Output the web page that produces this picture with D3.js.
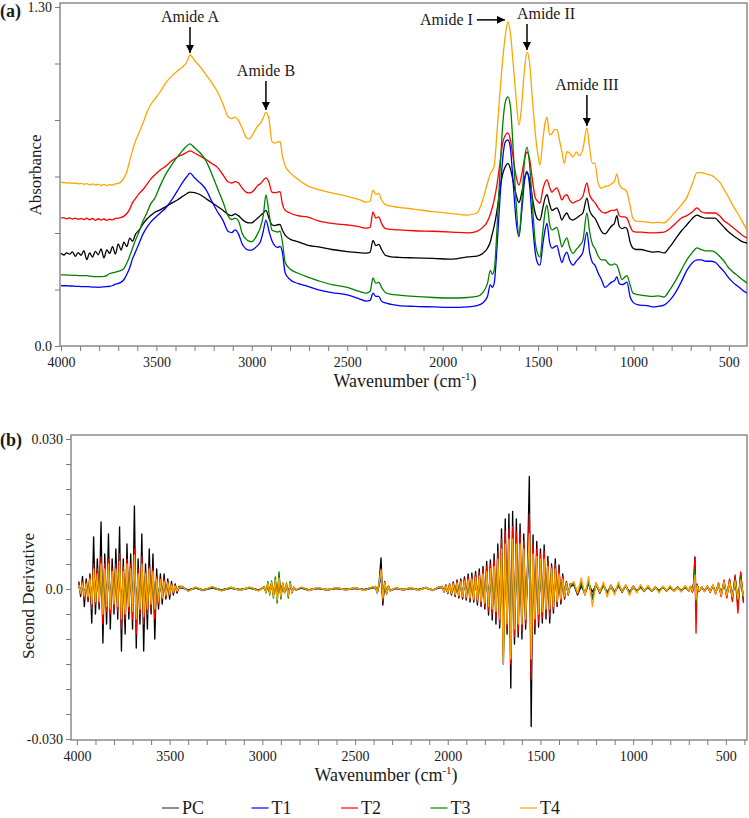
<!DOCTYPE html>
<html>
<head>
<meta charset="utf-8">
<script src="https://cdn.jsdelivr.net/npm/d3@7"></script>
<style>
  body { margin: 0; background: #fff; }
  svg { display: block; font-family: "Liberation Serif", "Times New Roman", serif; }
</style>
</head>
<body>
<svg id="chart" width="749" height="818"></svg>
<script>
// series names + colours (legend order)
var seriesNames = ["PC", "T1", "T2", "T3", "T4"];
var seriesColors = ["#000000", "#0000ff", "#ff0000", "#008000", "#ffa500"];

// ---- panel (a): absorbance spectra ----
var wavenumbersA = [
  4000,3985,3970,3955,3940,3925,3910,3895,3880,3865,
  3850,3835,3820,3805,3790,3775,3760,3745,3730,3715,
  3700,3685,3670,3655,3640,3625,3610,3590,3570,3550,
  3530,3510,3480,3450,3420,3390,3360,3340,3324,3300,
  3270,3240,3210,3180,3150,3125,3105,3088,3070,3050,
  3030,3015,3000,2985,2970,2955,2940,2926,2910,2895,
  2880,2865,2852,2840,2825,2800,2760,2710,2650,2580,
  2500,2440,2400,2380,2365,2350,2335,2320,2300,2270,
  2230,2150,2050,1950,1870,1820,1790,1765,1750,1740,
  1730,1715,1700,1685,1670,1658,1645,1630,1615,1600,
  1585,1570,1558,1545,1530,1515,1500,1490,1475,1462,
  1453,1440,1427,1414,1401,1388,1375,1362,1349,1335,
  1317,1300,1282,1265,1244,1230,1215,1202,1185,1168,
  1149,1130,1115,1100,1087,1075,1060,1045,1034,1018,
  1003,985,960,930,900,870,840,810,780,750,
  720,690,667,645,620,595,573,550,525,505,
  480,455,430,405
];

var absPC = [
  0.356,0.349,0.357,0.352,0.361,0.344,0.358,0.348,0.366,0.331,
  0.357,0.341,0.363,0.350,0.372,0.338,0.369,0.355,0.381,0.352,
  0.392,0.368,0.398,0.381,0.414,0.402,0.428,0.445,0.468,0.487,
  0.500,0.512,0.522,0.535,0.548,0.560,0.575,0.585,0.590,0.588,
  0.580,0.565,0.550,0.535,0.520,0.505,0.500,0.507,0.500,0.485,
  0.475,0.472,0.472,0.480,0.490,0.500,0.510,0.520,0.490,0.465,
  0.462,0.465,0.466,0.445,0.425,0.410,0.400,0.387,0.380,0.370,
  0.362,0.358,0.356,0.360,0.405,0.385,0.390,0.370,0.348,0.342,
  0.340,0.338,0.336,0.333,0.342,0.345,0.355,0.375,0.400,0.430,
  0.460,0.520,0.600,0.660,0.690,0.700,0.680,0.630,0.580,0.550,
  0.590,0.645,0.665,0.640,0.570,0.510,0.485,0.483,0.530,0.570,
  0.580,0.545,0.520,0.525,0.530,0.510,0.483,0.500,0.510,0.490,
  0.483,0.490,0.500,0.510,0.567,0.520,0.500,0.490,0.465,0.440,
  0.430,0.445,0.460,0.470,0.500,0.460,0.450,0.455,0.450,0.400,
  0.376,0.370,0.370,0.365,0.360,0.362,0.357,0.380,0.410,0.440,
  0.465,0.490,0.502,0.495,0.490,0.490,0.490,0.475,0.455,0.440,
  0.425,0.412,0.400,0.395
];

var absT1 = [
  0.232,0.231,0.231,0.230,0.230,0.229,0.229,0.228,0.228,0.228,
  0.227,0.226,0.226,0.225,0.226,0.227,0.228,0.229,0.232,0.237,
  0.240,0.245,0.255,0.275,0.300,0.335,0.360,0.395,0.430,0.455,
  0.475,0.490,0.510,0.530,0.560,0.595,0.630,0.650,0.663,0.645,
  0.625,0.600,0.555,0.515,0.480,0.440,0.435,0.445,0.430,0.390,
  0.372,0.368,0.368,0.375,0.385,0.400,0.440,0.483,0.440,0.405,
  0.385,0.378,0.382,0.360,0.280,0.255,0.240,0.230,0.215,0.205,
  0.196,0.182,0.172,0.175,0.203,0.190,0.190,0.172,0.165,0.160,
  0.155,0.152,0.150,0.148,0.150,0.155,0.165,0.190,0.235,0.225,
  0.240,0.380,0.560,0.720,0.785,0.790,0.760,0.620,0.480,0.420,
  0.520,0.640,0.670,0.620,0.480,0.360,0.315,0.310,0.390,0.450,
  0.470,0.400,0.375,0.380,0.385,0.350,0.320,0.345,0.360,0.330,
  0.310,0.325,0.340,0.360,0.437,0.360,0.320,0.310,0.280,0.255,
  0.225,0.235,0.245,0.250,0.265,0.240,0.235,0.240,0.245,0.190,
  0.168,0.160,0.156,0.155,0.150,0.152,0.157,0.175,0.205,0.245,
  0.290,0.320,0.330,0.330,0.325,0.325,0.322,0.305,0.285,0.265,
  0.245,0.230,0.215,0.203
];

var absT2 = [
  0.490,0.492,0.488,0.491,0.487,0.490,0.486,0.489,0.485,0.490,
  0.484,0.489,0.482,0.488,0.483,0.487,0.482,0.486,0.484,0.489,
  0.490,0.493,0.498,0.508,0.525,0.550,0.565,0.585,0.600,0.620,
  0.640,0.655,0.675,0.690,0.710,0.725,0.735,0.743,0.748,0.740,
  0.728,0.715,0.700,0.685,0.655,0.630,0.625,0.630,0.625,0.605,
  0.590,0.587,0.590,0.600,0.615,0.622,0.635,0.645,0.628,0.590,
  0.588,0.590,0.592,0.545,0.520,0.510,0.500,0.495,0.480,0.470,
  0.464,0.458,0.452,0.455,0.514,0.490,0.495,0.470,0.450,0.447,
  0.445,0.442,0.440,0.437,0.434,0.440,0.455,0.478,0.505,0.530,
  0.560,0.620,0.700,0.780,0.810,0.817,0.790,0.720,0.650,0.617,
  0.660,0.720,0.744,0.720,0.640,0.570,0.553,0.548,0.600,0.630,
  0.637,0.610,0.590,0.600,0.606,0.585,0.560,0.575,0.580,0.560,
  0.548,0.555,0.560,0.575,0.625,0.580,0.560,0.550,0.530,0.515,
  0.510,0.515,0.520,0.520,0.525,0.500,0.495,0.495,0.490,0.460,
  0.440,0.437,0.437,0.435,0.434,0.435,0.437,0.450,0.470,0.490,
  0.500,0.515,0.530,0.515,0.510,0.510,0.510,0.500,0.480,0.470,
  0.455,0.440,0.425,0.414
];

var absT3 = [
  0.273,0.273,0.272,0.272,0.271,0.271,0.270,0.270,0.270,0.270,
  0.268,0.267,0.266,0.266,0.266,0.267,0.270,0.278,0.280,0.283,
  0.286,0.290,0.298,0.318,0.345,0.375,0.405,0.440,0.480,0.510,
  0.545,0.565,0.615,0.660,0.695,0.725,0.752,0.768,0.775,0.760,
  0.740,0.710,0.660,0.605,0.550,0.500,0.485,0.490,0.480,0.430,
  0.410,0.402,0.400,0.410,0.430,0.455,0.500,0.579,0.510,0.445,
  0.440,0.437,0.440,0.400,0.320,0.295,0.280,0.265,0.250,0.235,
  0.225,0.210,0.203,0.210,0.261,0.240,0.245,0.225,0.205,0.198,
  0.195,0.190,0.186,0.184,0.186,0.190,0.205,0.240,0.290,0.275,
  0.290,0.450,0.660,0.850,0.940,0.955,0.920,0.750,0.550,0.426,
  0.550,0.720,0.763,0.700,0.550,0.400,0.350,0.341,0.440,0.520,
  0.540,0.470,0.445,0.450,0.455,0.420,0.380,0.400,0.415,0.380,
  0.355,0.370,0.385,0.405,0.510,0.440,0.390,0.375,0.345,0.330,
  0.330,0.315,0.310,0.315,0.310,0.285,0.255,0.265,0.270,0.235,
  0.203,0.198,0.195,0.192,0.190,0.192,0.188,0.215,0.250,0.290,
  0.330,0.360,0.376,0.370,0.365,0.365,0.360,0.345,0.325,0.303,
  0.285,0.270,0.255,0.242
];

var absT4 = [
  0.628,0.627,0.625,0.626,0.624,0.625,0.622,0.624,0.620,0.623,
  0.618,0.622,0.617,0.621,0.616,0.620,0.615,0.619,0.617,0.622,
  0.624,0.630,0.645,0.668,0.710,0.750,0.785,0.820,0.855,0.895,
  0.925,0.945,0.975,1.010,1.035,1.055,1.072,1.090,1.116,1.095,
  1.070,1.040,1.010,0.975,0.925,0.880,0.872,0.878,0.865,0.835,
  0.800,0.794,0.805,0.825,0.843,0.855,0.875,0.897,0.870,0.785,
  0.778,0.782,0.785,0.730,0.690,0.665,0.640,0.615,0.600,0.587,
  0.574,0.562,0.552,0.556,0.598,0.582,0.585,0.560,0.542,0.536,
  0.532,0.525,0.515,0.508,0.502,0.510,0.560,0.625,0.660,0.672,
  0.690,0.820,0.970,1.100,1.200,1.243,1.200,1.080,0.950,0.847,
  0.930,1.070,1.127,1.090,0.950,0.820,0.730,0.694,0.790,0.860,
  0.878,0.810,0.815,0.830,0.830,0.790,0.745,0.700,0.745,0.740,
  0.725,0.744,0.730,0.755,0.836,0.760,0.700,0.700,0.625,0.605,
  0.612,0.615,0.622,0.630,0.660,0.620,0.605,0.600,0.590,0.540,
  0.490,0.478,0.478,0.475,0.472,0.474,0.472,0.490,0.515,0.540,
  0.570,0.625,0.665,0.665,0.660,0.655,0.645,0.630,0.600,0.575,
  0.540,0.510,0.478,0.445
];

// peak labels in panel (a), pointing at the T4 curve
var amideLabels = ["Amide A", "Amide B", "Amide I", "Amide II", "Amide III"];
var amideWn = [3324, 2926, 1658, 1558, 1244];

// ---- panel (b): second derivative (values in units of 1e-3) ----
// sampling positions: dense where the spectra ripple, coarse elsewhere
var wavenumbersB = [].concat(
  d3.range(3990, 3449, -10),
  [3430, 3400, 3360, 3320, 3270, 3220, 3170, 3120, 3070, 3020],
  d3.range(2990, 2819, -10),
  [2790, 2750, 2700, 2650, 2600, 2550, 2500, 2450, 2410],
  d3.range(2390, 2309, -10),
  [2280, 2240, 2200, 2160, 2120, 2080, 2050],
  d3.range(2030, 1339, -10),
  d3.range(1320, 699, -20),
  [690, 680, 673, 667, 661, 655, 645],
  d3.range(630, 404, -15)
);

var d2PC = [
  1.5,-1.5,2.5,-3.5,2,-2.5,3,-6.8,10.4,-5, 6,-4,13.4,-10.8,7,-7,11,-8,6,-5,
  8,-6,12.4,-12.4,6,-9,9,-6,7,-8, 16.6,-11.8,6,-7,11,-12.4,5,-8,8,-5,
  7,-10,4,-4,3,-3,3,-2,2,-2, 1.5,-1.2,1,-0.8,0.5,
  0.5,-0.4,0.3,-0.3,0.4,-0.3,0.3,-0.2,0.3,-0.3,
  0.3,-0.5,0.8,-0.6,0.7,-0.9,1,-1.2,1.4,-0.8,0.9,-0.5,0.6,-0.8,0.7,-0.4,0.3,-0.2,
  0.3,-0.2,0.2,-0.2,0.2,-0.1,0.2,-0.2,0.3,
  0.5,-0.8,1.2,6.2,-3.2,1.5,-1,0.6,-0.4,
  0.2,-0.2,0.2,-0.2,0.3,-0.3,0.4,
  0.5,-0.6,0.8,-0.9,1,-1.2,1.4,-1.5,1.8,-1.8, 2,-2,2.4,-2.2,3,-2.6,3.2,-2.6,3.5,-3.2,
  4,-3.5,4.5,-4,5.5,-5.2,5.8,-6.2,7,-7, 9,-7.8,12,-15,14,-9,15,-19.8,15.5,-11,
  14,-9.6,13,-10,11,-8,4,22.5,-27.5,10.8, -9,9.5,-7.6,8,-6.8,8.8,-6,6.5,-6.8,5,
  -4.8,6,-3.5,4.8,-3,3,-2,1.5,-1.2,1,
  1,-1.2,0.6,-0.9,1.1,-0.6,0.8,-0.4,0.7,-0.6, 0.3,-0.7,0.6,-0.3,0.5,-0.6,0.2,-0.4,0.4,-0.2,
  0.3,-0.4,0.2,-0.3,0.4,-0.2,0.3,-0.3,0.2,-0.4, 0.3,-0.2,
  0.5,-0.6,1.5,6.4,-2.2,0.8,-0.5,
  0.4,-0.5,0.5,-0.6,0.7,-0.8,1,-1.2,1.5,-1.5,1.8,-2,2.5,-3,3,-2.5
];

var d2T1 = [
  0.5,-0.5,0.8,-1,0.7,-1,1.4,-2,2.8,-1.8, 2,-1.8,3.5,-3.5,2.8,-2.5,3.5,-2.8,2.5,-2,
  2.8,-2.5,3.8,-4.2,2.5,-3.5,3.5,-2.5,2.8,-3.2, 4.8,-4.2,2,-2.8,3.5,-3.8,2,-2.8,2.8,-2,
  2.5,-2.8,1.4,-1.8,1.2,-1.2,1,-0.8,0.8,-0.7, 0.5,-0.4,0.4,-0.3,0.2,
  0.2,-0.2,0.2,-0.2,0.2,-0.2,0.2,-0.1,0.2,-0.2,
  0.3,-0.5,1,-0.8,1,-1.2,1.5,-2,2.5,-1.5,1,-0.6,0.8,-1.2,1,-0.5,0.3,-0.2,
  0.2,-0.2,0.1,-0.1,0.1,-0.1,0.1,-0.1,0.2,
  0.3,-0.5,0.8,2.5,-1.5,0.8,-0.6,0.4,-0.3,
  0.1,-0.1,0.1,-0.1,0.2,-0.2,0.2,
  0.3,-0.3,0.4,-0.5,0.5,-0.6,0.6,-0.7,0.8,-0.8, 0.9,-1,1,-1,1.2,-1.2,1.3,-1.3,1.5,-1.4,
  1.7,-1.6,2,-1.8,2.3,-2.3,2.6,-2.6,3,-3, 4,-4,5.5,-9,6,-5,7,-9.5,7,-5.5,
  6,-5,6,-5,5.5,-4,2,8,-10,5, -4,4.5,-3.5,4,-3,4,-2.8,3,-2.8,2.8,
  -2.4,2.8,-1.7,2,-1.4,1.4,-1,0.8,-0.7,0.5,
  0.8,-0.7,1,-0.8,1.2,-1.6,0.8,-0.6,0.7,-0.8, 0.6,-0.6,0.7,-0.5,0.6,-0.7,0.5,-0.4,0.4,-0.4,
  0.4,-0.3,0.3,-0.4,0.4,-0.3,0.3,-0.3,0.3,-0.3, 0.4,-0.3,
  0.4,-0.5,1,3,-3,0.7,-0.4,
  0.3,-0.3,0.4,-0.4,0.5,-0.6,0.7,-0.8,1,-1,1.2,-1.4,1.6,-2,2,-1.5
];

var d2T2 = [
  1,-1,1.5,-2,1.5,-2,2.5,-4,5,-3, 4,-3,6.5,-7,5,-4.5,6,-5,4,-4,
  5,-4.5,7,-8,4.5,-6,6,-4.5,5,-6, 8,-9,4,-5,6.5,-7,3.5,-5,4.5,-4,
  4,-6,2.5,-3,2,-2,2,-1.5,1.5,-1.2, 1,-0.8,0.7,-0.5,0.4,
  0.4,-0.3,0.3,-0.2,0.3,-0.3,0.2,-0.2,0.3,-0.2,
  0.4,-0.6,1,-0.8,1,-1.2,1.4,-1.6,2,-1.2,1,-0.6,0.8,-1,0.8,-0.5,0.3,-0.2,
  0.3,-0.2,0.2,-0.2,0.2,-0.2,0.2,-0.2,0.3,
  0.4,-0.7,1,4,-2.4,1.2,-0.8,0.5,-0.3,
  0.2,-0.2,0.2,-0.2,0.3,-0.2,0.3,
  0.4,-0.5,0.7,-0.8,0.9,-1,1.2,-1.3,1.5,-1.5, 1.7,-1.7,2,-1.9,2.4,-2.2,2.6,-2.3,2.9,-2.7,
  3.3,-3,3.8,-3.4,4.5,-4.4,5,-5,5.8,-5.8, 7.5,-7,10,-13,11.5,-8,12,-15,12.5,-9.5,
  11.5,-8.5,11,-8.5,9.5,-7,3.5,15,-18,9, -7.5,8,-6.5,7,-5.8,7.5,-5,5.5,-5.5,4.5,
  -4.2,5,-3,4,-2.5,2.5,-1.8,1.3,-1.1,0.9,
  1.2,-1,1.4,-1.2,1.6,-2,1.2,-0.9,1,-1.1, 0.8,-0.8,0.9,-0.7,0.8,-0.9,0.6,-0.5,0.5,-0.5,
  0.5,-0.4,0.4,-0.5,0.5,-0.4,0.4,-0.4,0.4,-0.4, 0.5,-0.4,
  0.5,-0.6,1.5,6.2,-8.8,1,-0.5,
  0.4,-0.5,0.6,-0.7,0.8,-1,1.2,-1.5,1.8,-1.8,2,-2.5,2.8,-4.8,3.4,-2.8
];

var d2T3 = [
  0.6,-0.6,1,-1.2,0.8,-1.2,1.6,-2.4,3.2,-2, 2.4,-2,4,-4,3.2,-2.8,4,-3.2,2.8,-2.4,
  3.2,-2.8,4.4,-4.8,2.8,-4,4,-2.8,3.2,-3.6, 5.4,-4.8,2.4,-3.2,4,-4.4,2.4,-3.2,3.2,-2.4,
  2.8,-3.2,1.6,-2,1.4,-1.4,1.2,-1,1,-0.8, 0.6,-0.5,0.5,-0.3,0.2,
  0.3,-0.3,0.2,-0.2,0.3,-0.2,0.2,-0.2,0.2,-0.3,
  0.5,-0.8,1.5,-1.2,1.6,-1.8,2.4,-2.8,3.4,-2,1.2,-0.8,1.2,-1.8,1.5,-0.8,0.4,-0.2,
  0.3,-0.3,0.2,-0.2,0.2,-0.1,0.2,-0.2,0.2,
  0.4,-0.6,1,3.2,-2,1,-0.7,0.5,-0.3,
  0.2,-0.1,0.2,-0.2,0.2,-0.2,0.3,
  0.3,-0.4,0.5,-0.6,0.6,-0.7,0.8,-0.9,1,-1, 1.1,-1.2,1.3,-1.3,1.5,-1.5,1.6,-1.6,1.9,-1.8,
  2.1,-2,2.4,-2.3,2.8,-2.8,3.2,-3.2,3.6,-3.6, 5,-5,6.5,-12,7.5,-6,8,-11,8,-6.5,
  7.5,-6,7.5,-6,6.5,-5,2.5,9,-11.5,5.5, -5,5.5,-4,5,-3.6,5,-3.2,3.6,-3.2,3.2,
  -2.8,3.2,-2,2.4,-1.6,1.6,-1.2,1,-0.8,0.6,
  1,-0.8,1.2,-1,1.4,-2,1,-0.8,0.8,-1, 0.7,-0.7,0.8,-0.6,0.7,-0.8,0.5,-0.5,0.5,-0.4,
  0.4,-0.4,0.4,-0.4,0.4,-0.4,0.4,-0.3,0.4,-0.4, 0.5,-0.4,
  0.5,-0.5,1.2,3.8,-2.8,0.8,-0.4,
  0.3,-0.4,0.5,-0.5,0.6,-0.7,0.8,-1,1.2,-1.2,1.4,-1.6,1.8,-2.4,2.4,-2
];

var d2T4 = [
  0.8,-0.8,1.2,-1.5,1,-1.5,2,-3,4,-2.5, 3,-2.5,5,-5,4,-3.5,5,-4,3.5,-3,
  4,-3.5,5.5,-6,3.5,-5,5,-3.5,4,-4.5, 6.8,-6,3,-4,5,-5.5,3,-4,4,-3,
  3.5,-4,2,-2.5,1.8,-1.8,1.5,-1.2,1.2,-1, 0.8,-0.6,0.6,-0.4,0.3,
  0.5,-0.5,0.4,-0.3,0.5,-0.4,0.4,-0.3,0.4,-0.4,
  0.4,-0.7,1.2,-1,1.3,-1.5,1.8,-2.2,2.2,-1.5,1.1,-0.7,1,-1.4,1.1,-0.6,0.3,-0.2,
  0.4,-0.3,0.3,-0.2,0.3,-0.2,0.3,-0.3,0.4,
  0.5,-0.8,1.2,3.8,-1.8,1.3,-0.9,0.6,-0.4,
  0.3,-0.2,0.3,-0.3,0.3,-0.3,0.4,
  0.4,-0.5,0.6,-0.7,0.8,-0.9,1,-1.1,1.2,-1.3, 1.4,-1.5,1.6,-1.6,1.8,-1.8,2,-2,2.3,-2.2,
  2.6,-2.5,3,-2.8,3.5,-3.5,4,-4,4.5,-4.5, 6,-6,8,-15,9,-7,10,-14,10,-8,
  9,-7,9,-7,8,-6,3,11,-14,7, -6,6.5,-5,6,-4.5,6,-4,4.5,-4,4,
  -3.5,4,-2.5,3,-2,2,-1.5,1.2,-1,0.8,
  1.5,-0.8,2.2,-1.2,2.5,-3.5,1.2,-0.6,1.4,-1.6, 0.7,-1.2,1.4,-0.5,0.8,-1.3,0.5,-0.8,0.9,-0.4,
  0.7,-0.3,0.4,-0.8,0.6,-0.3,0.7,-0.5,0.3,-0.6, 0.7,-0.4,
  0.5,-0.5,1,2.8,-2.2,0.7,-0.4,
  0.4,-0.5,0.6,-0.6,0.8,-0.9,1,-1.2,1.4,-1.3,1.5,-1.6,1.6,-2,1.8,-1.5
];

var absSeries = [absPC, absT1, absT2, absT3, absT4];
var d2Series = [d2PC, d2T1, d2T2, d2T3, d2T4];

absSeries.forEach(function(s, i) {
  if (s.length !== wavenumbersA.length) console.log("panel a length mismatch", seriesNames[i], s.length);
});
d2Series.forEach(function(s, i) {
  if (s.length !== wavenumbersB.length) console.log("panel b length mismatch", seriesNames[i], s.length, wavenumbersB.length);
});

var svg = d3.select("#chart");
var axisGray = "#7a7a7a";
var textColor = "#1a1a1a";

// scales
var boxA = {left: 60, top: 3, right: 747, bottom: 346};
var xA = d3.scaleLinear().domain([4000, 405]).range([61, 747]);
var yA = d3.scaleLinear().domain([0, 1.3]).range([346, 7]);

var boxB = {left: 71, top: 435, right: 747, bottom: 740};
var xB = d3.scaleLinear().domain([4032, 386]).range([71, 747]);
var yB = d3.scaleLinear().domain([-0.030, 0.030]).range([739, 439]);

function drawFrame(box, x, y, yTicks, yFormat, clipId) {
  var g = svg.append("g");

  svg.append("clipPath").attr("id", clipId)
    .append("rect")
    .attr("x", box.left).attr("y", box.top)
    .attr("width", box.right - box.left).attr("height", box.bottom - box.top);

  var xAxis = d3.axisBottom(x)
    .tickValues(d3.range(4000, x.domain()[1], -100))
    .tickSize(5).tickPadding(6)
    .tickFormat(function(d) { return d % 500 === 0 ? d : ""; });
  var gx = g.append("g").attr("transform", "translate(0," + box.bottom + ")").call(xAxis);

  var yAxis = d3.axisLeft(y).tickValues(yTicks).tickSize(5).tickPadding(3).tickFormat(yFormat);
  var gy = g.append("g").attr("transform", "translate(" + box.left + ",0)").call(yAxis);

  [gx, gy].forEach(function(a) {
    a.select(".domain").remove();
    a.selectAll(".tick line").attr("stroke", axisGray).attr("stroke-width", 1);
    a.selectAll(".tick text")
      .attr("fill", textColor)
      .style("font-family", "'Liberation Serif', 'Times New Roman', serif")
      .style("font-size", "14px");
  });

  g.append("rect")
    .attr("x", box.left).attr("y", box.top)
    .attr("width", box.right - box.left).attr("height", box.bottom - box.top)
    .attr("fill", "none").attr("stroke", axisGray).attr("stroke-width", 1.3);
  return g;
}

// ---------- panel (a) ----------
var yTicksA = d3.range(0, 7).map(function(i) { return i * 1.3 / 6; });
drawFrame(boxA, xA, yA, yTicksA, function(d, i) {
  return i === 0 ? "0.0" : (i === 6 ? "1.30" : "");
}, "clipA");

var lineA = d3.line()
  .x(function(d) { return xA(d[0]); })
  .y(function(d) { return yA(d[1]); })
  .curve(d3.curveMonotoneX);

var plotA = svg.append("g").attr("clip-path", "url(#clipA)");
absSeries.forEach(function(s, i) {
  plotA.append("path")
    .datum(wavenumbersA.map(function(w, k) { return [w, s[k]]; }))
    .attr("d", lineA)
    .attr("fill", "none")
    .attr("stroke", seriesColors[i])
    .attr("stroke-width", 1.3)
    .attr("stroke-linejoin", "round");
});

// ---------- panel (b) ----------
var yTicksB = d3.range(-6, 7).map(function(i) { return i * 0.005; });
drawFrame(boxB, xB, yB, yTicksB, function(d, i) {
  if (i === 0) return "-0.030";
  if (i === 6) return "0.0";
  if (i === 12) return "0.030";
  return "";
}, "clipB");

var lineB = d3.line()
  .x(function(d) { return xB(d[0]); })
  .y(function(d) { return yB(d[1]); });

var plotB = svg.append("g").attr("clip-path", "url(#clipB)");
d2Series.forEach(function(s, i) {
  plotB.append("path")
    .datum(wavenumbersB.map(function(w, k) { return [w, s[k] / 1000]; }))
    .attr("d", lineB)
    .attr("fill", "none")
    .attr("stroke", seriesColors[i])
    .attr("stroke-width", 1.35)
    .attr("stroke-linejoin", "round");
});

// ---------- peak annotations (a) ----------
var defs = svg.append("defs");
defs.append("marker")
  .attr("id", "arrowHead")
  .attr("viewBox", "0 0 10 10")
  .attr("refX", 10).attr("refY", 5)
  .attr("markerWidth", 8).attr("markerHeight", 8)
  .attr("markerUnits", "userSpaceOnUse")
  .attr("orient", "auto")
  .append("path").attr("d", "M0,0 L10,5 L0,10 z").attr("fill", "#000");

function t4At(wn) {
  return absT4[wavenumbersA.indexOf(wn)];
}

var annot = svg.append("g")
  .style("font-size", "16px")
  .attr("fill", textColor);

amideLabels.forEach(function(label, i) {
  var px = xA(amideWn[i]);
  var py = yA(t4At(amideWn[i])) - 2;
  if (label === "Amide I") {
    // horizontal arrow coming from the left
    annot.append("line")
      .attr("x1", px - 31).attr("y1", py).attr("x2", px - 3).attr("y2", py)
      .attr("stroke", "#000").attr("stroke-width", 1.5)
      .attr("marker-end", "url(#arrowHead)");
    annot.append("text")
      .attr("x", px - 35).attr("y", py + 5)
      .attr("text-anchor", "end")
      .text(label);
  } else {
    var len = label === "Amide III" ? 31 : (label === "Amide B" ? 29 : 26);
    annot.append("line")
      .attr("x1", px).attr("y1", py - len).attr("x2", px).attr("y2", py)
      .attr("stroke", "#000").attr("stroke-width", 1.5)
      .attr("marker-end", "url(#arrowHead)");
    var tx = label === "Amide II" ? px + 19 : px;
    annot.append("text")
      .attr("x", tx).attr("y", py - len - 5)
      .attr("text-anchor", "middle")
      .text(label);
  }
});

// ---------- titles ----------
function wavenumberTitle(cx, cy) {
  var t = svg.append("text")
    .attr("x", cx).attr("y", cy)
    .attr("text-anchor", "middle")
    .attr("fill", textColor)
    .style("font-size", "18px");
  t.append("tspan").text("Wavenumber (cm");
  t.append("tspan").attr("dy", -7).style("font-size", "11px").text("-1");
  t.append("tspan").attr("dy", 7).text(")");
}
wavenumberTitle(405, 387);
wavenumberTitle(386, 781);

svg.append("text")
  .attr("transform", "translate(41,175) rotate(-90)")
  .attr("text-anchor", "middle")
  .attr("fill", textColor)
  .style("font-size", "17px")
  .text("Absorbance");

svg.append("text")
  .attr("transform", "translate(34,596) rotate(-90)")
  .attr("text-anchor", "middle")
  .attr("fill", textColor)
  .style("font-size", "17px")
  .text("Second Derivative");

svg.append("text").attr("x", 0).attr("y", 17)
  .style("font-size", "18px").style("font-weight", "bold")
  .attr("fill", textColor).text("(a)");
svg.append("text").attr("x", 0).attr("y", 446)
  .style("font-size", "18px").style("font-weight", "bold")
  .attr("fill", textColor).text("(b)");

// ---------- legend ----------
var legend = svg.append("g").attr("transform", "translate(162,808)");
seriesNames.forEach(function(name, i) {
  var item = legend.append("g").attr("transform", "translate(" + (i * 89.5) + ",0)");
  item.append("line")
    .attr("x1", 0).attr("x2", 17).attr("y1", 0).attr("y2", 0)
    .attr("stroke", i === 0 ? "#444" : seriesColors[i]).attr("stroke-width", 1.2);
  item.append("text")
    .attr("x", 20).attr("y", 6)
    .attr("fill", textColor)
    .style("font-size", "18px")
    .text(name);
});
</script>
</body>
</html>
